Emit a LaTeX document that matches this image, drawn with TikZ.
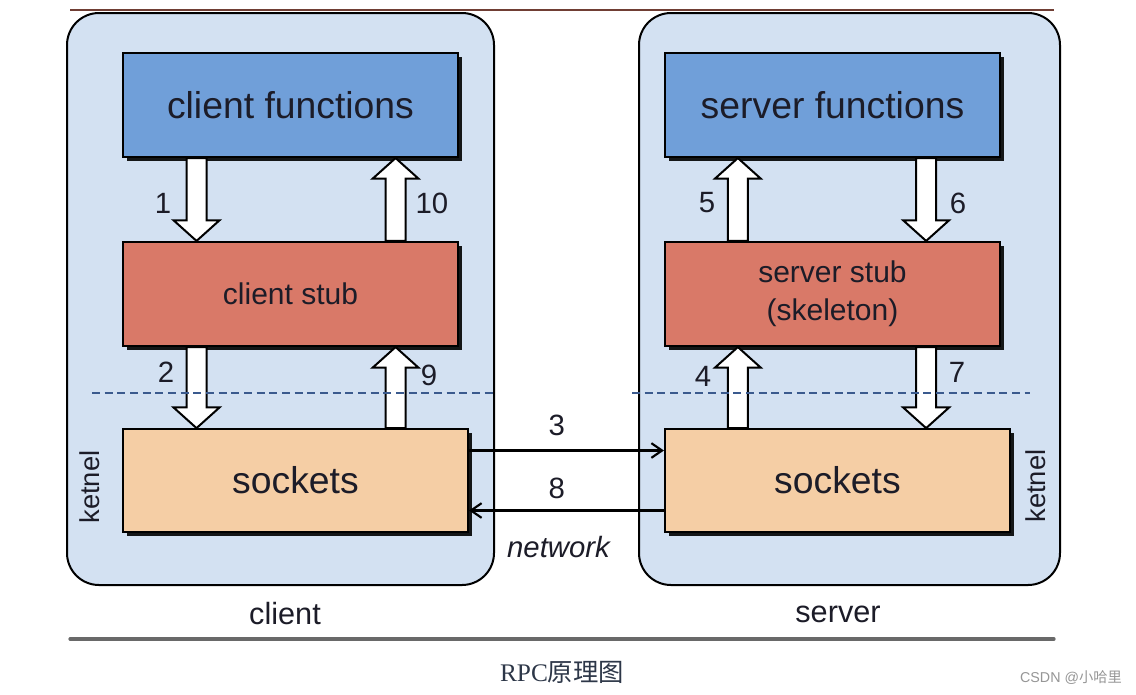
\documentclass[tikz,border=0pt]{standalone}
\usepackage{fontspec}
\setmainfont{Liberation Sans}
\newfontfamily\serifrm{Liberation Serif}
\newfontfamily\cjk{Noto Sans CJK SC}
\usepackage{xcolor}
\usepackage{tikz}
\usetikzlibrary{calc,shadows,arrows.meta,positioning}

\definecolor{hostfill}{RGB}{211,225,242}
\definecolor{funcfill}{RGB}{112,159,217}
\definecolor{stubfill}{RGB}{217,121,104}
\definecolor{sockfill}{RGB}{245,206,165}
\definecolor{sepline}{RGB}{58,90,142}
\definecolor{txt}{RGB}{28,28,40}
\definecolor{topline}{RGB}{112,62,52}
\definecolor{barcol}{RGB}{105,105,105}
\definecolor{captxt}{RGB}{45,55,72}
\definecolor{marktxt}{RGB}{150,150,150}

\tikzset{
  hostbox/.style={draw=black, line width=1.5pt, fill=hostfill, rounded corners=24pt, minimum height=429pt},
  layerbox/.style={draw=black, line width=1.6pt, minimum width=251pt, minimum height=78pt, text=txt,
    drop shadow={shadow xshift=2.8pt, shadow yshift=-2.8pt, fill=black, opacity=0.9}},
  funcbox/.style={layerbox, fill=funcfill, font=\fontsize{28}{30}\selectfont},
  stubbox/.style={layerbox, fill=stubfill, align=center, font=\fontsize{22.5}{28.5}\selectfont},
  sockbox/.style={layerbox, fill=sockfill, minimum width=258.75pt, minimum height=77pt, font=\fontsize{28}{30}\selectfont},
  blockarr/.style={draw=black, line width=1.5pt, fill=white, line join=miter},
  netarr/.style={draw=black, line width=1.8pt, -{Straight Barb[length=8pt,width=11pt,line width=1.6pt]}},
  numlbl/.style={inner sep=0pt, text=txt, font=\fontsize{22}{24}\selectfont},
  hostlbl/.style={inner sep=0pt, text=txt, font=\fontsize{23}{25}\selectfont},
  sep/.style={draw=sepline, line width=1.5pt, dash pattern=on 6pt off 3.5pt},
}

% hollow block arrow: #1 gives x, #2 tail anchor, #3 tip anchor
\newcommand{\blockarrow}[3]{%
  \coordinate (ba-x) at #1;
  \coordinate (ba-s) at (ba-x |- #2);
  \coordinate (ba-e) at (ba-x |- #3);
  \draw[blockarr] ($(ba-s)+(-10,0)$) -- ($(ba-e)!15.5pt!(ba-s)+(-10,0)$) -- ($(ba-e)!15.5pt!(ba-s)+(-23,0)$)
    -- (ba-e) -- ($(ba-e)!15.5pt!(ba-s)+(23,0)$) -- ($(ba-e)!15.5pt!(ba-s)+(10,0)$) -- ($(ba-s)+(10,0)$) -- cycle;
}

\begin{document}
\begin{tikzpicture}[x=0.75pt,y=0.75pt,yscale=-1,xscale=1]
\useasboundingbox (0,0) rectangle (1136,694);
\fill[white] (0,0) rectangle (1136,694);

%Straight Lines [edge of the picture above]
\draw[line width=1.3pt, color=topline] (70,10) -- (1054,10);

%Shape: hosts
\node[hostbox, minimum width=320.25pt] (client) at (280.5,299) {};
\node[hostbox, minimum width=315.75pt] (server) at (849.5,299) {};

%Shape: layers
\node[funcbox] (cf) at (290.5,105) {client functions};
\node[funcbox] (sf) at (832.5,105) {server functions};
\node[stubbox] (cs) at (290.5,294) {client stub};
\node[stubbox] (ss) at (832.5,294) {server stub\\(skeleton)};
\node[sockbox] (cso) at (295.5,480.5) {sockets};
\node[sockbox] (sso) at (837.5,480.5) {sockets};

%Block arrows
\blockarrow{($(cf.south west)!.221!(cf.south east)$)}{cf.south}{cs.north}
\blockarrow{($(cf.south west)!.812!(cf.south east)$)}{cs.north}{cf.south}
\blockarrow{($(cs.south west)!.221!(cs.south east)$)}{cs.south}{cso.north}
\blockarrow{($(cs.south west)!.812!(cs.south east)$)}{cso.north}{cs.south}
\blockarrow{($(sf.south west)!.219!(sf.south east)$)}{ss.north}{sf.south}
\blockarrow{($(sf.south west)!.778!(sf.south east)$)}{sf.south}{ss.north}
\blockarrow{($(ss.south west)!.219!(ss.south east)$)}{sso.north}{ss.south}
\blockarrow{($(ss.south west)!.778!(ss.south east)$)}{ss.south}{sso.north}

%Straight Lines [kernel border]
\draw[sep] (92,393) -- (494,393);
\draw[sep] (632,393) -- (1030,393);

%Network arrows
\draw[netarr] ($(cso.east)+(0,-30)$) -- node[numlbl, pos=0.45, above=10pt] (l3) {3} ($(sso.west)+(0,-30)$);
\draw[netarr] ($(sso.west)+(0,30)$) -- node[numlbl, pos=0.55, above=8pt] (l8) {8} ($(cso.east)+(0,30)$);

% Text Node
\node[numlbl] (l1) at (163,203) {1};
\node[numlbl] (l10) at (432,203) {10};
\node[numlbl] (l2) at (166,372) {2};
\node[numlbl] (l9) at (429,375) {9};
\node[numlbl] (l5) at (707,203) {5};
\node[numlbl] (l6) at (958,203) {6};
\node[numlbl] (l4) at (703,376) {4};
\node[numlbl] (l7) at (957,372) {7};
% Text Node
\node[hostlbl, font=\fontsize{22}{24}\selectfont\itshape] (net) at (558.5,547) {network};
\node[hostlbl, rotate=90, font=\fontsize{20.5}{22}\selectfont] (kl) at (90,487) {ketnel};
\node[hostlbl, rotate=90, font=\fontsize{20.5}{22}\selectfont] (kr) at (1036,486) {ketnel};
\node[hostlbl] (clbl) at (285,614) {client};
\node[hostlbl] (slbl) at (838,614) {server};

%Straight Lines [bottom edge]
\draw[line width=2.4pt, color=barcol, line cap=round] (70,639) -- (1054,639);

% Text Node
\node[inner sep=0pt, text=captxt] (cap) at (562,672) {\fontsize{19}{22}\selectfont\serifrm RPC\cjk 原理图};
\node[inner sep=0pt, text=marktxt] (mark) at (1071,677) {\fontsize{10.7}{12}\selectfont CSDN @\cjk 小哈里};
\end{tikzpicture}
\end{document}
